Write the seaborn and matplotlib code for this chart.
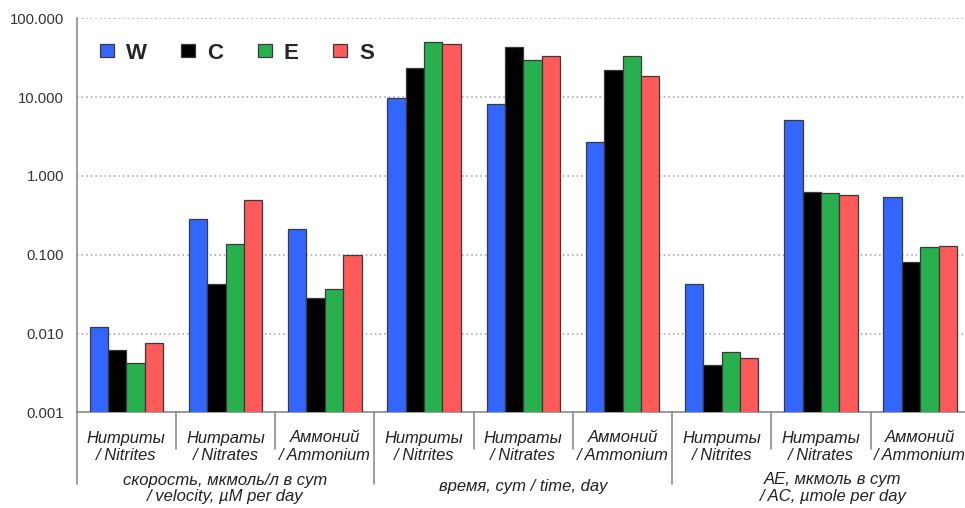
import numpy as np
import pandas as pd
import matplotlib
matplotlib.use("Agg")
import matplotlib.pyplot as plt
import matplotlib.transforms as mtransforms
from matplotlib.ticker import FixedLocator, FixedFormatter, NullLocator
import seaborn as sns

# ---- data -------------------------------------------------------------
series = ["W", "C", "E", "S"]
series_colors = ["#3366FF", "#000000", "#28B04E", "#FF5A5A"]

category_labels = [
    "Нитриты\n/ Nitrites", "Нитраты\n/ Nitrates", "Аммоний\n/ Ammonium",
    "Нитриты\n/ Nitrites", "Нитраты\n/ Nitrates", "Аммоний\n/ Ammonium",
    "Нитриты\n/ Nitrites", "Нитраты\n/ Nitrates", "Аммоний\n/ Ammonium",
]
group_labels = [
    "скорость, мкмоль/л в сут\n/ velocity, µM per day",
    "время, сут / time, day",
    "AE, мкмоль в сут\n/ AC, µmole per day",
]

w_values = [0.0120, 0.280, 0.211, 9.77, 8.20, 2.70, 0.0430, 5.18, 0.540]
c_values = [0.0061, 0.043, 0.0283, 23.5, 43.8, 22.4, 0.0040, 0.624, 0.0805]
e_values = [0.0042, 0.138, 0.0362, 50.3, 29.4, 33.7, 0.0058, 0.607, 0.126]
s_values = [0.0076, 0.494, 0.0990, 46.9, 33.7, 18.4, 0.0049, 0.572, 0.130]

y_ticks = [0.001, 0.01, 0.1, 1, 10, 100]
y_tick_labels = ["0.001", "0.010", "0.100", "1.000", "10.000", "100.000"]

# ---- long-form table ------------------------------------------------------
rows = []
for name, vals in zip(series, [w_values, c_values, e_values, s_values]):
    for slot, v in enumerate(vals):
        rows.append({"slot": slot, "series": name, "value": v})
df = pd.DataFrame(rows)

# ---- style ---------------------------------------------------------------
sns.set_theme(style="white")
plt.rcParams["font.family"] = ["Liberation Sans", "DejaVu Sans"]
grey = "#8C8C8C"
text_color = "#222222"

fig = plt.figure(figsize=(9.65, 5.08), dpi=100)
ax = fig.add_axes([0.0795, 0.1884, 0.9255, 0.7755])
ax.set_yscale("log")

sns.barplot(
    data=df, x="slot", y="value", hue="series",
    hue_order=series, palette=series_colors, saturation=1,
    width=0.74, edgecolor="#3A3A3A", linewidth=0.9,
    errorbar=None, ax=ax, zorder=3,
)

ax.set_ylim(0.001, 100)
ax.set_xlim(-0.5, len(category_labels) - 0.5)
ax.yaxis.set_major_locator(FixedLocator(y_ticks))
ax.yaxis.set_major_formatter(FixedFormatter(y_tick_labels))
ax.yaxis.set_minor_locator(NullLocator())
ax.tick_params(axis="y", which="major", direction="out", length=5,
               width=1, color=grey, labelsize=10.7, labelcolor="#333333", pad=4)
ax.yaxis.grid(True, linestyle=(0, (1, 2)), color="#A0A0A0", linewidth=1.1)
ax.set_axisbelow(True)

for side in ("top", "right"):
    ax.spines[side].set_visible(False)
for side in ("left", "bottom"):
    ax.spines[side].set_color(grey)
    ax.spines[side].set_linewidth(1.2)

ax.set_xlabel("")
ax.set_ylabel("")
ax.set_xticks(range(len(category_labels)))
ax.set_xticklabels([])
ax.tick_params(axis="x", length=0)

trans = mtransforms.blended_transform_factory(ax.transData, ax.transAxes)
ax_h_px = 0.7755 * 508
base_px = 508 * (1 - 0.1884)


def below_axis(px):
    """Axes-fraction y for a pixel row under the x axis."""
    return (base_px - px) / ax_h_px


# category names, two lines each
for slot, label in enumerate(category_labels):
    for line, py in zip(label.split("\n"), [442.5, 459.5]):
        ax.text(slot, below_axis(py), line, transform=trans, ha="center",
                va="baseline", style="italic", fontsize=11.9, color=text_color)

# separators under the axis: short between categories, long between groups
for x in [0.5, 1.5, 3.5, 4.5, 6.5, 7.5]:
    ax.plot([x, x], [0, below_axis(449)], transform=trans, color=grey,
            linewidth=1.2, clip_on=False)
for x in [-0.5, 2.5, 5.5, 8.5]:
    ax.plot([x, x], [0, below_axis(484)], transform=trans, color=grey,
            linewidth=1.2, clip_on=False)

# group captions
group_x = [1.0, 4.0, 7.12]
group_rows = [[484.5, 500.5], [491.5], [484.0, 500.5]]
for gx, rows_px, text in zip(group_x, group_rows, group_labels):
    for line, py in zip(text.split("\n"), rows_px):
        ax.text(gx, below_axis(py), line, transform=trans, ha="center",
                va="baseline", style="italic", fontsize=12.0, color=text_color)

# legend
handles, labels = ax.get_legend_handles_labels()
ax.legend(handles, labels, ncol=4, frameon=False, loc="center left",
          bbox_to_anchor=(0.026, 0.912), borderaxespad=0, borderpad=0,
          handlelength=0.62, handleheight=0.55, handletextpad=0.55,
          columnspacing=1.55, prop={"weight": "bold", "size": 16})

fig.savefig("out.png", dpi=100)
